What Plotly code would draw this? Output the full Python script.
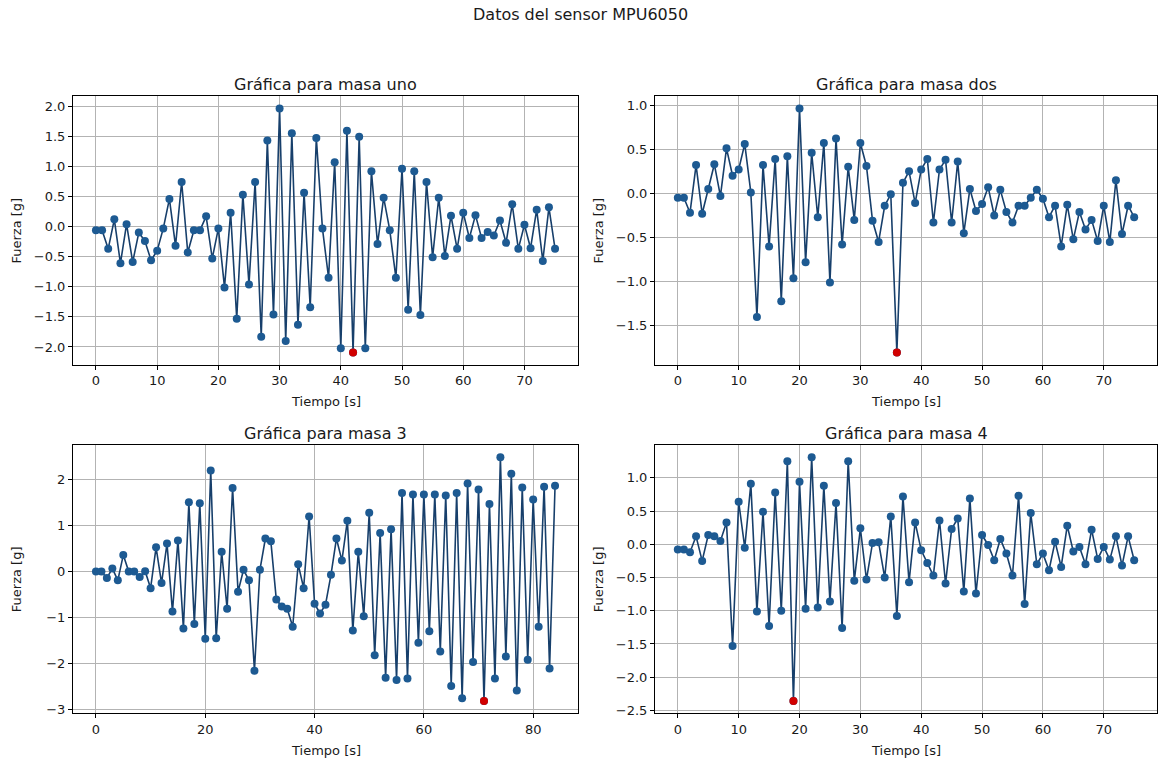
import plotly.graph_objects as go

# ---- data ----
t1 = list(range(76))
masa_uno = [-0.06, -0.06, -0.37, 0.12, -0.61, 0.04, -0.59, -0.10, -0.24, -0.56,
            -0.40, -0.03, 0.46, -0.32, 0.74, -0.43, -0.06, -0.06, 0.17, -0.53,
            -0.03, -1.01, 0.23, -1.53, 0.53, -0.96, 0.74, -1.83, 1.43, -1.46,
            1.96, -1.90, 1.55, -1.63, 0.56, -1.34, 1.47, -0.03, -0.85, 1.07,
            -2.02, 1.59, -2.09, 1.49, -2.02, 0.92, -0.29, 0.48, -0.06, -0.85,
            0.96, -1.38, 0.92, -1.47, 0.74, -0.51, 0.48, -0.49, 0.18, -0.37,
            0.23, -0.19, 0.19, -0.19, -0.09, -0.15, 0.10, -0.27, 0.37, -0.37,
            0.03, -0.36, 0.28, -0.57, 0.32, -0.37]

t2 = list(range(76))
masa_dos = [-0.05, -0.05, -0.22, 0.32, -0.23, 0.05, 0.33, -0.03, 0.51, 0.20,
            0.27, 0.56, 0.01, -1.40, 0.32, -0.60, 0.39, -1.22, 0.42, -0.96,
            0.96, -0.78, 0.46, -0.27, 0.57, -1.01, 0.62, -0.58, 0.30, -0.30,
            0.57, 0.31, -0.31, -0.55, -0.14, -0.01, -1.80, 0.12, 0.25, -0.11,
            0.27, 0.39, -0.33, 0.27, 0.38, -0.33, 0.36, -0.45, 0.05, -0.20,
            -0.12, 0.07, -0.25, 0.04, -0.21, -0.33, -0.14, -0.14, -0.05, 0.04,
            -0.06, -0.27, -0.14, -0.60, -0.13, -0.52, -0.21, -0.41, -0.30, -0.54,
            -0.14, -0.55, 0.15, -0.46, -0.14, -0.27]

t3 = list(range(85))
masa_3 = [0.00, 0.00, -0.14, 0.07, -0.19, 0.36, 0.00, 0.00, -0.12, 0.01,
          -0.36, 0.53, -0.25, 0.61, -0.87, 0.68, -1.24, 1.51, -1.14, 1.49,
          -1.46, 2.20, -1.45, 0.43, -0.81, 1.82, -0.44, 0.04, -0.19, -2.16,
          0.04, 0.72, 0.66, -0.61, -0.76, -0.81, -1.20, 0.16, -0.36, 1.20,
          -0.70, -0.91, -0.72, -0.07, 0.72, 0.24, 1.11, -1.28, 0.43, -0.97,
          1.28, -1.82, 0.84, -2.31, 0.92, -2.36, 1.71, -2.33, 1.68, -1.55,
          1.68, -1.30, 1.68, -1.74, 1.66, -2.49, 1.71, -2.76, 1.92, -1.97,
          1.79, -2.82, 1.47, -2.33, 2.49, -1.85, 2.13, -2.59, 1.83, -1.92,
          1.57, -1.20, 1.85, -2.11, 1.87]

t4 = list(range(76))
masa_4 = [-0.08, -0.08, -0.12, 0.12, -0.25, 0.14, 0.12, 0.05, 0.33, -1.53,
          0.64, -0.05, 0.91, -1.01, 0.49, -1.23, 0.78, -1.00, 1.25, -2.36,
          0.94, -0.97, 1.31, -0.95, 0.88, -0.86, 0.62, -1.26, 1.25, -0.55,
          0.24, -0.53, 0.02, 0.03, -0.50, 0.42, -1.08, 0.72, -0.57, 0.33,
          -0.09, -0.28, -0.47, 0.36, -0.59, 0.23, 0.39, -0.71, 0.69, -0.74,
          0.14, -0.01, -0.24, 0.08, -0.14, -0.47, 0.73, -0.90, 0.47, -0.30,
          -0.14, -0.39, 0.04, -0.34, 0.28, -0.11, -0.04, -0.30, 0.22, -0.22,
          -0.04, -0.23, 0.12, -0.32, 0.12, -0.24]

titles = ["Gráfica para masa uno", "Gráfica para masa dos",
          "Gráfica para masa 3", "Gráfica para masa 4"]
main_title = "Datos del sensor MPU6050"
x_label = "Tiempo [s]"
y_label = "Fuerza [g]"

series = [(t1, masa_uno), (t2, masa_dos), (t3, masa_3), (t4, masa_4)]

# ---- styling / layout ----
W, H = 1159, 765
FONT = "DejaVu Sans"
TXT = "#1a1a1a"
LINE_C = "#173f6b"
MARK_C = "#1d5a92"
RED = "#d10000"

# plot-area boxes in pixels: (left, right, top, bottom)
boxes = [(73, 578, 97, 367), (655, 1157, 97, 367),
         (73, 578, 448, 718), (655, 1157, 448, 718)]
xdticks = [10, 10, 20, 10]
ydticks = [0.5, 0.5, 1, 0.5]

fig = go.Figure()
annotations = []
layout = {}

for i, ((tx, vy), (l, r, tp, bt)) in enumerate(zip(series, boxes)):
    k = "" if i == 0 else str(i + 1)
    xa, ya = "x" + k, "y" + k
    fig.add_trace(go.Scatter(
        x=tx, y=vy, mode="lines+markers", xaxis=xa, yaxis=ya,
        line=dict(color=LINE_C, width=1.6),
        marker=dict(color=MARK_C, size=8, line=dict(width=0)),
        showlegend=False, hoverinfo="skip"))
    # minimum highlighted in red
    mi = min(range(len(vy)), key=lambda j: vy[j])
    fig.add_trace(go.Scatter(
        x=[tx[mi]], y=[vy[mi]], mode="markers", xaxis=xa, yaxis=ya,
        marker=dict(color=RED, size=8, line=dict(width=0)),
        showlegend=False, hoverinfo="skip"))

    xmin, xmax = min(tx), max(tx)
    ymin, ymax = min(vy), max(vy)
    xm = 0.05 * (xmax - xmin)
    ym = 0.05 * (ymax - ymin)

    common = dict(showline=True, linecolor="black", linewidth=1, mirror=True,
                  ticks="outside", ticklen=4, tickcolor="black",
                  showgrid=True, gridcolor="#b3b3b3", gridwidth=1,
                  zeroline=False,
                  tickfont=dict(family=FONT, size=13, color=TXT))
    layout["xaxis" + k] = dict(
        common, domain=[l / W, r / W], anchor=ya,
        range=[xmin - xm, xmax + xm], dtick=xdticks[i], tick0=0)
    layout["yaxis" + k] = dict(
        common, domain=[1 - bt / H, 1 - tp / H], anchor=xa,
        range=[ymin - ym, ymax + ym], dtick=ydticks[i], tick0=0,
        tickformat=".1f" if ydticks[i] < 1 else "d")

    cx = (l + r) / 2
    annotations.append(dict(text=titles[i], x=cx / W, y=1 - (tp - 12) / H,
                            xref="paper", yref="paper", showarrow=False,
                            xanchor="center", yanchor="middle",
                            font=dict(family=FONT, size=16, color=TXT)))
    annotations.append(dict(text=x_label, x=cx / W, y=1 - (bt + 37) / H,
                            xref="paper", yref="paper", showarrow=False,
                            xanchor="center", yanchor="middle",
                            font=dict(family=FONT, size=13, color=TXT)))
    annotations.append(dict(text=y_label, x=(l - 57) / W, y=1 - ((tp + bt) / 2) / H,
                            xref="paper", yref="paper", showarrow=False,
                            textangle=-90, xanchor="center", yanchor="middle",
                            font=dict(family=FONT, size=13, color=TXT)))

annotations.append(dict(text=main_title, x=580 / W, y=1 - 15 / H,
                        xref="paper", yref="paper", showarrow=False,
                        xanchor="center", yanchor="middle",
                        font=dict(family=FONT, size=16, color=TXT)))

fig.update_layout(width=W, height=H, margin=dict(l=0, r=0, t=0, b=0),
                  paper_bgcolor="white", plot_bgcolor="white",
                  annotations=annotations, **layout)

fig.write_html("out.html")
